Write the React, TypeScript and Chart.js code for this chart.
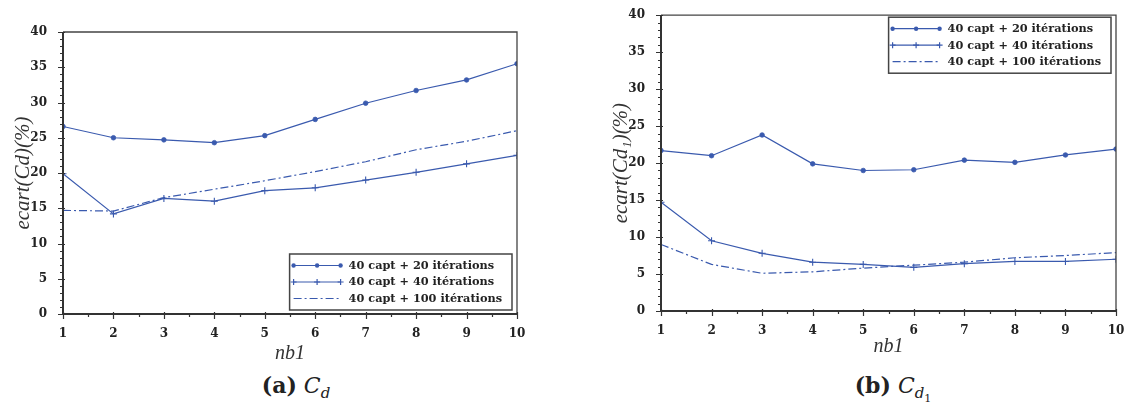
import React, { useEffect, useRef } from "react";
import { Chart, registerables } from "chart.js";

Chart.register(...registerables);

// ---------- data ----------
const xValues = [1, 2, 3, 4, 5, 6, 7, 8, 9, 10];
const seriesLabels = [
  "40 capt + 20 itérations",
  "40 capt + 40 itérations",
  "40 capt + 100 itérations",
];
// (a) C_d
const cdIter20 = [26.6, 25.0, 24.7, 24.3, 25.3, 27.6, 29.9, 31.7, 33.2, 35.5];
const cdIter40 = [19.9, 14.2, 16.4, 16.0, 17.5, 17.9, 19.0, 20.1, 21.3, 22.5];
const cdIter100 = [14.7, 14.6, 16.5, 17.7, 18.9, 20.2, 21.6, 23.3, 24.5, 26.0];
// (b) C_d1
const cd1Iter20 = [21.7, 21.0, 23.8, 19.9, 19.0, 19.1, 20.4, 20.1, 21.1, 21.9];
const cd1Iter40 = [14.7, 9.5, 7.8, 6.6, 6.3, 5.9, 6.4, 6.7, 6.7, 7.0];
const cd1Iter100 = [9.0, 6.3, 5.1, 5.3, 5.8, 6.2, 6.6, 7.2, 7.5, 7.9];

const yMin = 0;
const yMax = 40;
const yStep = 5;
const xMin = 1;
const xMax = 10;

const BLUE = "#3a5aae";
const AXIS = "#333333";
const TICK_FONT = { family: "'DejaVu Serif', serif", size: 12, weight: "bold" as const };
const LEGEND_FONT = "bold 11.3px 'DejaVu Serif', serif";
const DASH = [8, 3, 2, 3];

type Corner = "br" | "tr";

const framePlugin = {
  id: "frameLegend",
  afterDraw(chart: any, _args: any, opts: any) {
    const ctx = chart.ctx as CanvasRenderingContext2D;
    const ca = chart.chartArea;
    const xs = chart.scales.x;
    const ys = chart.scales.y;
    ctx.save();
    // top & right thin frame
    ctx.strokeStyle = "#444";
    ctx.lineWidth = 1.3;
    ctx.beginPath();
    ctx.moveTo(ca.left, ca.top);
    ctx.lineTo(ca.right, ca.top);
    ctx.lineTo(ca.right, ca.bottom);
    ctx.stroke();
    // bottom & left thick axes
    ctx.strokeStyle = AXIS;
    ctx.lineWidth = 2;
    ctx.beginPath();
    ctx.moveTo(ca.left, ca.top);
    ctx.lineTo(ca.left, ca.bottom);
    ctx.lineTo(ca.right, ca.bottom);
    ctx.stroke();
    // ticks
    ctx.lineWidth = 1.2;
    ctx.beginPath();
    for (let v = xMin; v <= xMax + 1e-9; v += 0.5) {
      const px = Math.round(xs.getPixelForValue(v)) + 0.5;
      const major = Math.abs(v - Math.round(v)) < 1e-9;
      const len = major ? 5 : 3;
      ctx.moveTo(px, ca.bottom - (major ? 2 : 1));
      ctx.lineTo(px, ca.bottom + len);
    }
    for (let v = yMin; v <= yMax + 1e-9; v += 1) {
      const py = Math.round(ys.getPixelForValue(v)) + 0.5;
      const major = v % yStep === 0;
      const len = major ? 5 : 3;
      ctx.moveTo(ca.left - len, py);
      ctx.lineTo(ca.left + (major ? 2 : 1), py);
    }
    ctx.stroke();

    // legend
    const corner: Corner = opts.corner;
    ctx.font = LEGEND_FONT;
    const maxW = Math.max(...seriesLabels.map((t) => ctx.measureText(t).width));
    const sampleLen = 47;
    const w = 4 + sampleLen + 8 + maxW + 10;
    const h = 56;
    const x0 = ca.right - 5 - w;
    const y0 = corner === "br" ? ca.bottom - 4 - h : ca.top + 2;
    ctx.fillStyle = "#fff";
    ctx.fillRect(x0, y0, w, h);
    ctx.strokeStyle = "#444";
    ctx.lineWidth = 1.5;
    ctx.strokeRect(x0, y0, w, h);
    const sx0 = x0 + 4;
    const sx1 = sx0 + sampleLen;
    chart.data.datasets.forEach((ds: any, i: number) => {
      const ry = y0 + 11.5 + i * 16.5;
      ctx.strokeStyle = BLUE;
      ctx.fillStyle = BLUE;
      ctx.lineWidth = 1.2;
      ctx.setLineDash(ds.borderDash || []);
      ctx.beginPath();
      ctx.moveTo(sx0, ry);
      ctx.lineTo(sx1, ry);
      ctx.stroke();
      ctx.setLineDash([]);
      const mk = [sx0, (sx0 + sx1) / 2, sx1];
      if (ds.pointStyle === "circle" && ds.pointRadius > 0) {
        mk.forEach((mx) => {
          ctx.beginPath();
          ctx.arc(mx, ry, 2.2, 0, Math.PI * 2);
          ctx.fill();
        });
      } else if (ds.pointStyle === "cross" && ds.pointRadius > 0) {
        ctx.beginPath();
        mk.forEach((mx) => {
          ctx.moveTo(mx - 3, ry);
          ctx.lineTo(mx + 3, ry);
          ctx.moveTo(mx, ry - 3);
          ctx.lineTo(mx, ry + 3);
        });
        ctx.stroke();
      }
      ctx.fillStyle = "#222";
      ctx.textBaseline = "middle";
      ctx.textAlign = "left";
      ctx.fillText(seriesLabels[i], sx1 + 8, ry + 0.5);
    });
    ctx.restore();
  },
};

function toPoints(vals: number[]) {
  return xValues.map((x, i) => ({ x, y: vals[i] }));
}

function makeConfig(
  s20: number[],
  s40: number[],
  s100: number[],
  yTitle: string,
  corner: Corner,
  pad: { left: number; top: number; right: number },
  xAxisHeight: number,
  xTitlePadBottom: number
): any {
  return {
    type: "line",
    data: {
      datasets: [
        {
          label: seriesLabels[0],
          data: toPoints(s20),
          borderColor: BLUE,
          backgroundColor: BLUE,
          borderWidth: 1.2,
          pointStyle: "circle",
          pointRadius: 2.3,
          pointBorderWidth: 0.8,
          tension: 0,
        },
        {
          label: seriesLabels[1],
          data: toPoints(s40),
          borderColor: BLUE,
          backgroundColor: BLUE,
          borderWidth: 1.2,
          pointStyle: "cross",
          pointRadius: 3.5,
          pointBorderWidth: 1.1,
          tension: 0,
        },
        {
          label: seriesLabels[2],
          data: toPoints(s100),
          borderColor: BLUE,
          backgroundColor: BLUE,
          borderWidth: 1.2,
          borderDash: DASH,
          pointRadius: 0,
          tension: 0,
        },
      ],
    },
    options: {
      animation: false,
      responsive: false,
      maintainAspectRatio: false,
      layout: { padding: { left: pad.left, top: pad.top, right: pad.right, bottom: 0 } },
      plugins: {
        legend: { display: false },
        tooltip: { enabled: false },
        frameLegend: { corner },
      },
      scales: {
        x: {
          type: "linear",
          min: xMin,
          max: xMax,
          grid: { display: false },
          border: { display: false },
          ticks: { stepSize: 1, font: TICK_FONT, color: "#222", padding: 5, maxRotation: 0 },
          title: {
            display: true,
            text: "nb1",
            color: "#333",
            font: { family: "'Liberation Serif', serif", size: 20, style: "italic" },
            padding: { top: 0, bottom: xTitlePadBottom },
          },
          afterFit: (s: any) => {
            s.height = xAxisHeight;
          },
        },
        y: {
          type: "linear",
          min: yMin,
          max: yMax,
          grid: { display: false },
          border: { display: false },
          ticks: { stepSize: yStep, font: TICK_FONT, color: "#222", padding: 8 },
          title: {
            display: true,
            text: yTitle,
            color: "#333",
            font: { family: "'Liberation Serif', serif", size: 21, style: "italic" },
            padding: { top: 11, bottom: 0 },
          },
          afterFit: (s: any) => {
            s.width = 63;
          },
        },
      },
    },
    plugins: [framePlugin],
  };
}

const captionStyle: React.CSSProperties = {
  position: "absolute",
  top: 372,
  width: 240,
  textAlign: "center",
  fontFamily: "'DejaVu Serif', serif",
  fontSize: 22,
  lineHeight: "26px",
  color: "#222",
  whiteSpace: "nowrap",
};

export default function App() {
  const leftRef = useRef<HTMLCanvasElement>(null);
  const rightRef = useRef<HTMLCanvasElement>(null);

  useEffect(() => {
    const c1 = new Chart(
      leftRef.current as HTMLCanvasElement,
      makeConfig(cdIter20, cdIter40, cdIter100, "ecart(Cd)(%)", "br", { left: 0, top: 32, right: 43 }, 56, 4)
    );
    const c2 = new Chart(
      rightRef.current as HTMLCanvasElement,
      makeConfig(cd1Iter20, cd1Iter40, cd1Iter100, "ecart(Cd\u2081)(%)", "tr", { left: 33, top: 12, right: 14 }, 59, 11)
    );
    return () => {
      c1.destroy();
      c2.destroy();
    };
  }, []);

  return (
    <div
      style={{
        position: "absolute",
        left: 0,
        top: 0,
        width: 1130,
        height: 403,
        background: "#fff",
        overflow: "hidden",
      }}
    >
      <canvas ref={leftRef} width={560} height={370} style={{ position: "absolute", left: 0, top: 0 }} />
      <canvas ref={rightRef} width={565} height={370} style={{ position: "absolute", left: 565, top: 0 }} />
      <div style={{ ...captionStyle, left: 296 - 120 }}>
        <span style={{ fontWeight: "bold" }}>(a)</span>{" "}
        <span style={{ fontStyle: "italic" }}>
          C<sub style={{ fontSize: 15 }}>d</sub>
        </span>
      </div>
      <div style={{ ...captionStyle, left: 893 - 120 }}>
        <span style={{ fontWeight: "bold" }}>(b)</span>{" "}
        <span style={{ fontStyle: "italic" }}>
          C<sub style={{ fontSize: 15 }}>d<sub style={{ fontSize: 11, fontStyle: "normal" }}>1</sub></sub>
        </span>
      </div>
    </div>
  );
}
